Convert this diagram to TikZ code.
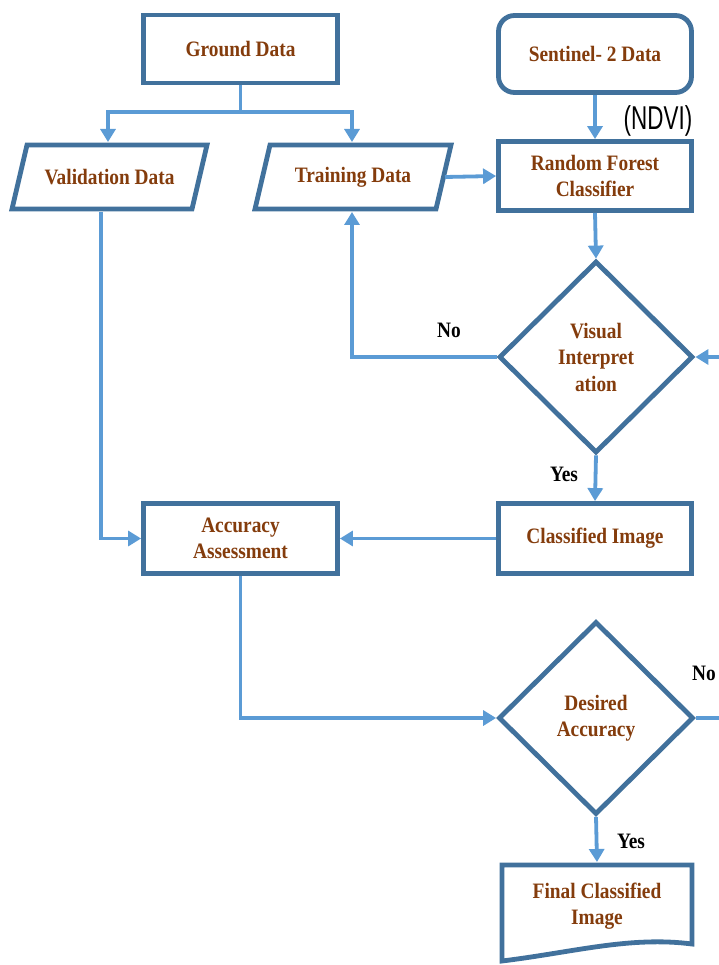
\documentclass[tikz,border=0pt]{standalone}
\usepackage{fontspec}
\setmainfont{Liberation Serif}[FakeStretch=0.88]
\newfontfamily\ndvifont{Liberation Sans}[FakeStretch=0.68]
\usetikzlibrary{arrows.meta,shapes.geometric}
\definecolor{bord}{HTML}{41719C}
\definecolor{arr}{HTML}{5B9BD5}
\definecolor{txt}{HTML}{843C0C}
\newcommand\fs{\fontsize{22}{26.5}\selectfont}
\begin{document}
\begin{tikzpicture}[x=1pt,y=-1pt,
  box/.style={draw=bord,line width=4.8pt,fill=white,inner sep=0pt,text=txt,font=\fs\bfseries,align=center},
  shp/.style={draw=bord,line width=4.8pt,line join=miter,fill=white},
  txtnode/.style={text=txt,font=\fs\bfseries,align=center,inner sep=0pt},
  conn/.style={draw=arr,line width=3.8pt,-{Triangle[length=13pt,width=15pt]}},
  plain/.style={draw=arr,line width=3.8pt},
  lbl/.style={font=\fs\bfseries,text=black,inner sep=0pt}]
\useasboundingbox (0,0) rectangle (718,965);

% boxes
\node[box,minimum width=194pt,minimum height=68pt] (ground) at (240.5,49) {Ground Data};
\node[box,rounded corners=16pt,minimum width=193pt,minimum height=77pt] (sent) at (595,54) {Sentinel- 2 Data};
\node[box,minimum width=193pt,minimum height=69pt] (rf) at (595,176) {Random Forest\\Classifier};
\node[box,diamond,aspect=1,minimum width=194pt,minimum height=192pt] (vis) at (596,357) {Visual\\Interpret\\ation};
\node[box,minimum width=193pt,minimum height=70pt] (cls) at (595,538.5) {Classified Image};
\node[box,minimum width=194pt,minimum height=70pt] (acc) at (240.5,538.5) {Accuracy\\Assessment};
\node[box,diamond,aspect=1,minimum width=195pt,minimum height=193pt] (des) at (596,718) {Desired\\Accuracy};

% parallelograms
\path[shp] (27,145) -- (207,145) -- (192,209) -- (12,209) -- cycle;
\node[txtnode] (val) at (109.5,177) {Validation Data};
\path[shp] (270,145) -- (451,145) -- (436,209) -- (255,209) -- cycle;
\node[txtnode] (tr) at (353,177) {Training Data};

% document shape
\path[shp] (502,865) -- (692,865) -- (692,944) .. controls (630,936) and (575,952) .. (502,961) -- cycle;
\node[txtnode] (fin) at (597,906) {Final Classified\\Image};

% coordinates
\coordinate (split) at (240.5,112);
\coordinate (valtop) at (108,142);
\coordinate (valbot) at (101,212);
\coordinate (trtop) at (352,142);
\coordinate (trbot) at (352,212);
\coordinate (trright) at (445,177);
\coordinate (fintop) at (597,862);
\coordinate (edgeA) at (720,357);
\coordinate (edgeB) at (720,718);

% connectors
\draw[plain] (ground.south) -- (split);
\draw[conn] (split) -| (valtop);
\draw[conn] (split) -| (trtop);
\draw[conn] (sent.south) -- (rf.north);
\draw[conn] (trright) -- (rf.west);
\draw[conn] (rf.south) -- (vis.north);
\draw[conn] (vis.west) -| (trbot);
\draw[conn] (edgeA) -- (vis.east);
\draw[conn] (vis.south) -- (cls.north);
\draw[conn] (cls.west) -- (acc.east);
\draw[conn] (valbot) |- (acc.west);
\draw[conn] (acc.south) |- (des.west);
\draw[plain] (des.east) -- (edgeB);
\draw[conn] (des.south) -- (fintop);

% labels
\node[font=\ndvifont\fontsize{33}{33}\selectfont,inner sep=0pt] (ndvi) at (658,121) {(NDVI)};
\node[lbl] (no1) at (449,330) {No};
\node[lbl] (yes1) at (564,474) {Yes};
\node[lbl] (no2) at (704,673) {No};
\node[lbl] (yes2) at (631,841) {Yes};
\end{tikzpicture}
\end{document}
